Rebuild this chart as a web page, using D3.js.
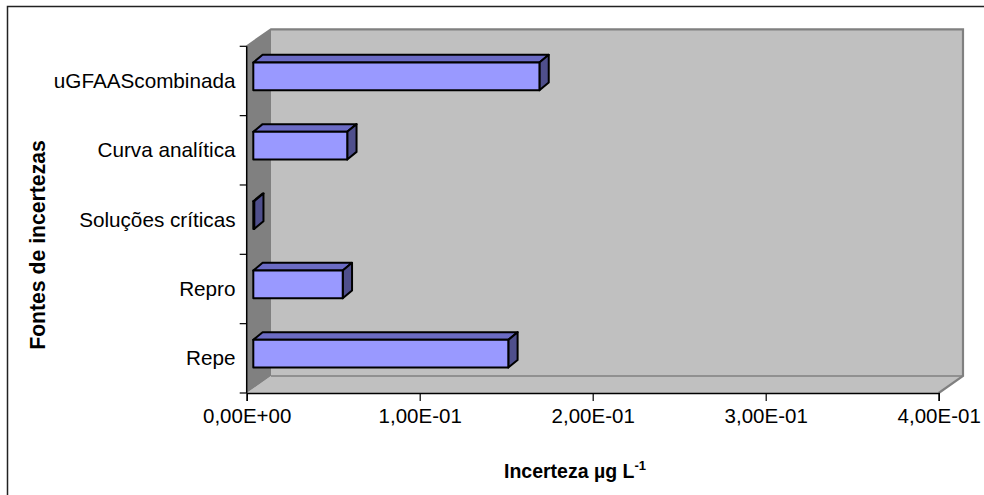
<!DOCTYPE html>
<html>
<head>
<meta charset="utf-8">
<script src="https://cdn.jsdelivr.net/npm/d3@7/dist/d3.min.js"></script>
<style>
  html, body { margin: 0; padding: 0; background: #fff; }
  svg { display: block; font-family: "Liberation Sans", Arial, sans-serif; }
</style>
</head>
<body>
<svg id="chart" width="984" height="495"></svg>
<script>
// Uncertainty sources (top to bottom) and their values in µg L-1
const categories = ["uGFAAScombinada", "Curva analítica", "Soluções críticas", "Repro", "Repe"];
const values = [0.1654, 0.0543, 0.0005, 0.0517, 0.1474];
const xTicks = [0, 0.1, 0.2, 0.3, 0.4];
const xTickLabels = ["0,00E+00", "1,00E-01", "2,00E-01", "3,00E-01", "4,00E-01"];

const svg = d3.select("#chart");

// outer chart frame
svg.append("rect")
  .attr("x", 7.5).attr("y", 6.5).attr("width", 1100).attr("height", 600)
  .attr("fill", "none").attr("stroke", "#222").attr("stroke-width", 1.5);

// front plane of the 3D plot
const x = d3.scaleLinear().domain([0, 0.4]).range([246.7, 938.7]);
const y = d3.scaleBand().domain(categories).range([46.3, 393]).paddingInner(0).paddingOuter(0);

// wall depth offset
const wallDx = 24.3, wallDy = -17;
const x0 = x(0), x1 = x(0.4), yTop = y.range()[0], yBot = y.range()[1];

const poly = pts => pts.map(p => p.join(",")).join(" ");

// back wall
svg.append("polygon")
  .attr("points", poly([[x0 + wallDx, yTop + wallDy], [x1 + wallDx, yTop + wallDy],
                        [x1 + wallDx, yBot + wallDy], [x0 + wallDx, yBot + wallDy]]))
  .attr("fill", "#c0c0c0");
// floor
svg.append("polygon")
  .attr("points", poly([[x0, yBot], [x1, yBot], [x1 + wallDx, yBot + wallDy], [x0 + wallDx, yBot + wallDy]]))
  .attr("fill", "#c0c0c0");
// side wall
svg.append("polygon")
  .attr("points", poly([[x0, yTop], [x0 + wallDx, yTop + wallDy], [x0 + wallDx, yBot + wallDy], [x0, yBot]]))
  .attr("fill", "#808080");
// wall edges
svg.append("polyline")
  .attr("points", poly([[x0, yTop], [x0 + wallDx, yTop + wallDy], [x1 + wallDx, yTop + wallDy],
                        [x1 + wallDx, yBot + wallDy], [x1, yBot]]))
  .attr("fill", "none").attr("stroke", "#808080").attr("stroke-width", 2.2);
svg.append("line")
  .attr("x1", x0 + wallDx).attr("x2", x1 + wallDx)
  .attr("y1", yBot + wallDy).attr("y2", yBot + wallDy)
  .attr("stroke", "#808080").attr("stroke-width", 1.5);

// bars: 3D boxes sitting in the middle of the depth
const barOffX = 6.6, barOffY = -4.6, depthX = 9.3, depthY = -7.7;
const barH = y.bandwidth() * 0.4;
const bars = svg.append("g").attr("stroke", "#000").attr("stroke-width", 2).attr("stroke-linejoin", "round");
categories.forEach((c, i) => {
  const cy = y(c) + y.bandwidth() / 2 + barOffY;
  const xa = x(0) + barOffX, xb = x(values[i]) + barOffX;
  const ya = cy - barH / 2, yb = cy + barH / 2;
  // top face
  bars.append("polygon")
    .attr("points", poly([[xa, ya], [xb, ya], [xb + depthX, ya + depthY], [xa + depthX, ya + depthY]]))
    .attr("fill", "#6b6bc4");
  // end face
  bars.append("polygon")
    .attr("points", poly([[xb, ya], [xb + depthX, ya + depthY], [xb + depthX, yb + depthY], [xb, yb]]))
    .attr("fill", "#4f4f8c");
  // front face
  bars.append("rect")
    .attr("x", xa).attr("y", ya).attr("width", Math.max(0, xb - xa)).attr("height", barH)
    .attr("fill", "#9999ff");
});

// value axis
const xAxis = d3.axisBottom(x).tickValues(xTicks).tickSize(8).tickPadding(7)
  .tickFormat((d, i) => xTickLabels[i]);
const gx = svg.append("g").attr("transform", `translate(0,${yBot})`).call(xAxis);
gx.select(".domain").attr("stroke", "#000").attr("stroke-width", 1.5);
gx.selectAll(".tick line").attr("stroke", "#000").attr("stroke-width", 1.2);
gx.selectAll(".tick text").attr("font-size", 20.5).attr("fill", "#000")
  .attr("font-family", "Liberation Sans, Arial, sans-serif");

// category axis (ticks on band boundaries)
svg.append("line")
  .attr("x1", x0).attr("x2", x0).attr("y1", yTop).attr("y2", yBot)
  .attr("stroke", "#000").attr("stroke-width", 1.5);
const bounds = categories.map(c => y(c)).concat([yBot]);
svg.selectAll(".ytick").data(bounds).join("line")
  .attr("x1", x0 - 7).attr("x2", x0).attr("y1", d => d).attr("y2", d => d)
  .attr("stroke", "#000").attr("stroke-width", 1.2);
svg.selectAll(".ylab").data(categories).join("text")
  .attr("x", 235.5).attr("y", c => y(c) + y.bandwidth() / 2 + 7)
  .attr("text-anchor", "end").attr("font-size", 20.7).attr("fill", "#000")
  .text(c => c);

// axis titles
const xt = svg.append("text").attr("x", 575).attr("y", 478)
  .attr("text-anchor", "middle").attr("font-size", 19.5).attr("font-weight", "bold").attr("fill", "#000");
xt.append("tspan").text("Incerteza µg L");
xt.append("tspan").attr("dy", -8).attr("font-size", 13).text("-1");

svg.append("text")
  .attr("transform", "translate(45,245) rotate(-90)")
  .attr("text-anchor", "middle").attr("font-size", 21.2).attr("font-weight", "bold").attr("fill", "#000")
  .text("Fontes de incertezas");
</script>
</body>
</html>
